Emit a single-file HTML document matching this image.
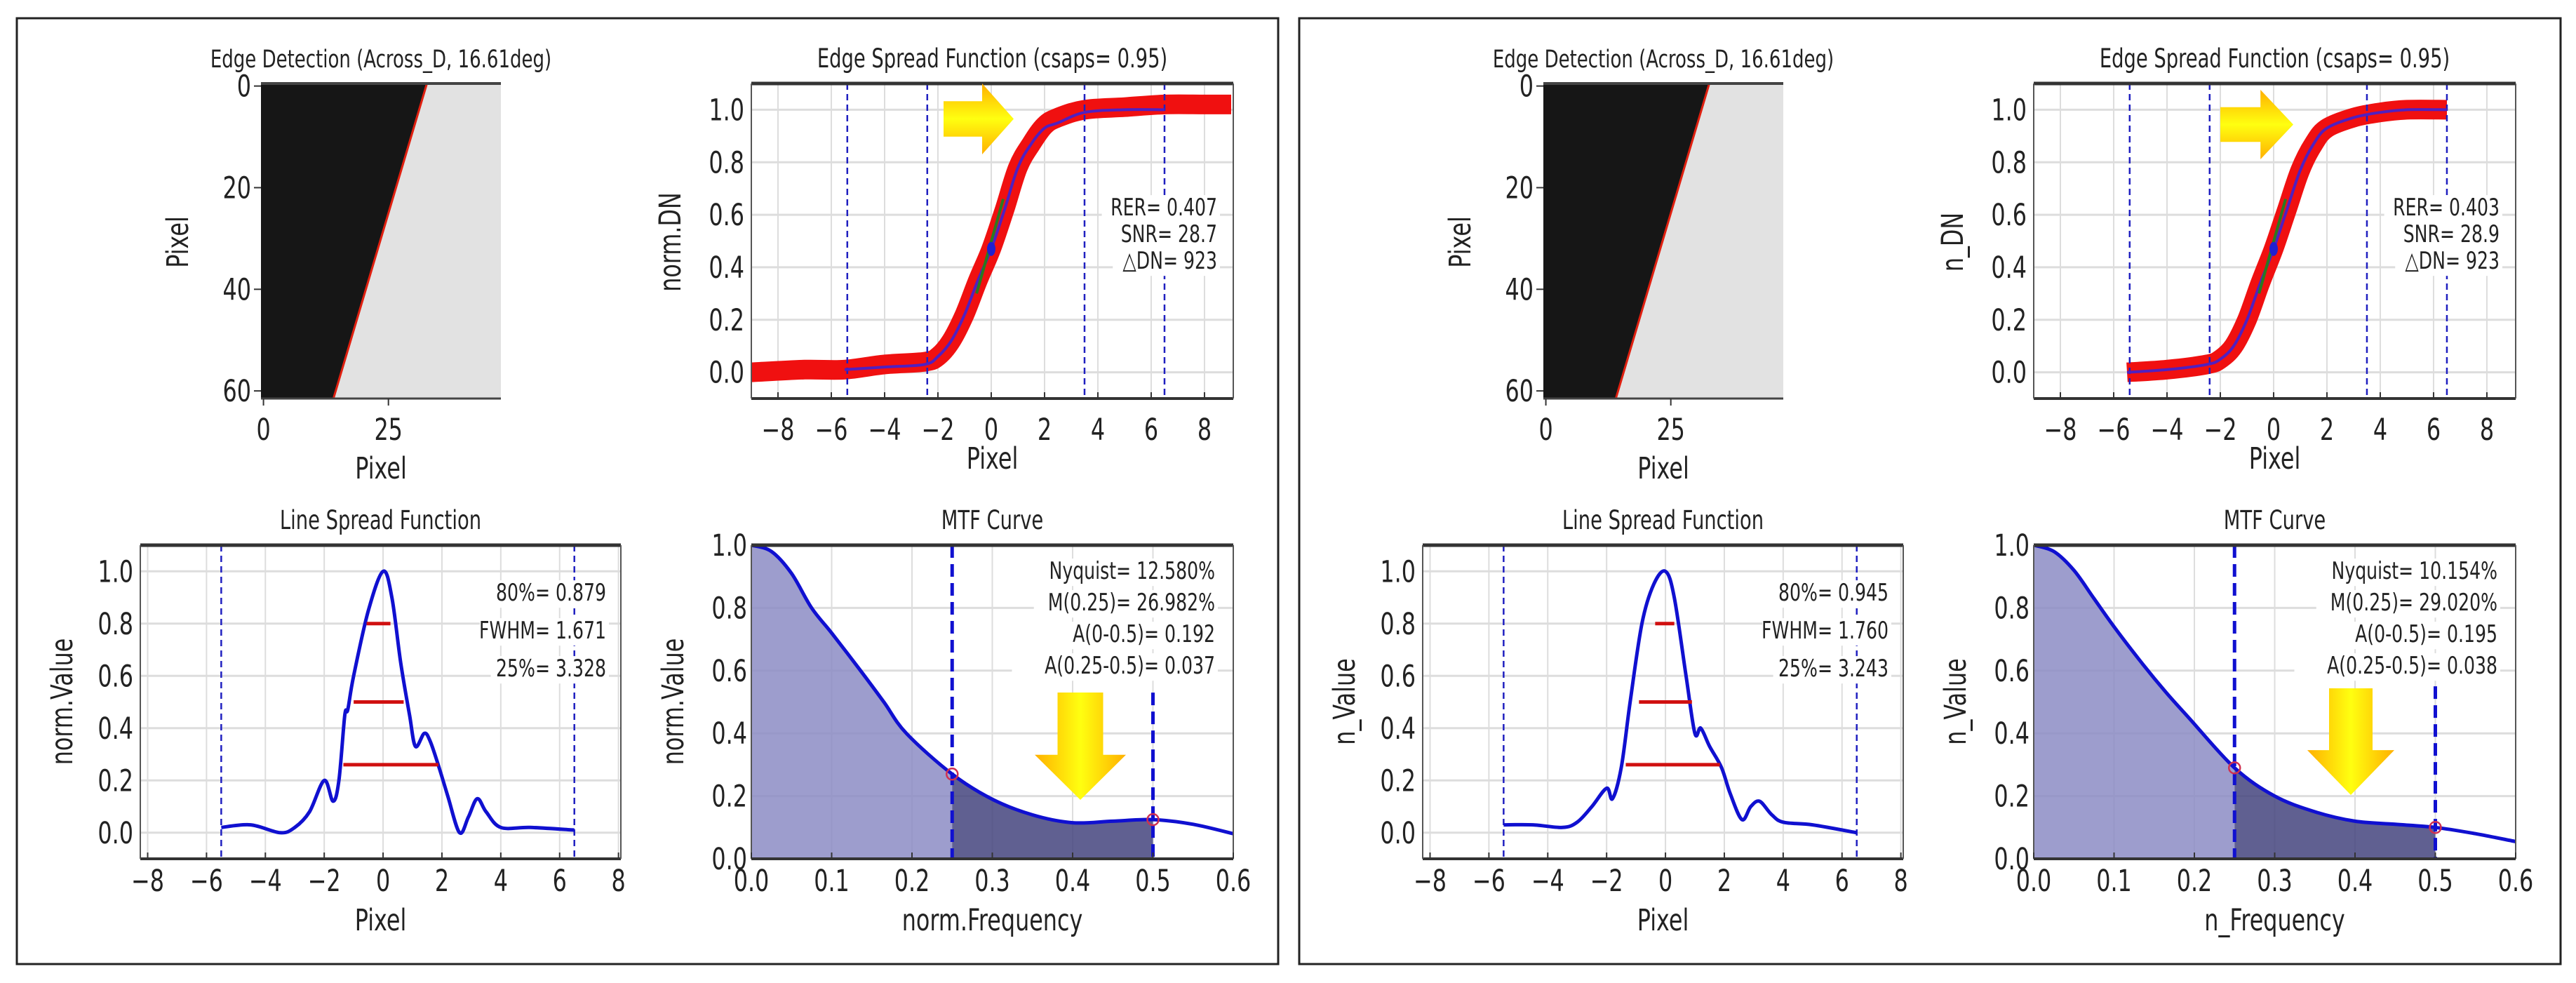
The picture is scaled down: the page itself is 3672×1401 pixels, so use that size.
<!DOCTYPE html>
<html><head><meta charset="utf-8"><style>
html,body{margin:0;padding:0;background:#fff;}
svg{display:block;}
text{font-family:"DejaVu Sans","Liberation Sans",sans-serif;fill:#222;}
</style></head><body>
<svg id="fig" width="3672" height="1401" viewBox="0 0 3672 1401" xmlns="http://www.w3.org/2000/svg">
<defs>
<linearGradient id="arrR" x1="0" y1="0" x2="0" y2="1"><stop offset="0" stop-color="#ffb000"/><stop offset="0.5" stop-color="#ffff10"/><stop offset="1" stop-color="#ffb000"/></linearGradient>
<linearGradient id="arrD" x1="0" y1="0" x2="1" y2="0"><stop offset="0" stop-color="#ffb000"/><stop offset="0.5" stop-color="#ffff10"/><stop offset="1" stop-color="#ffb000"/></linearGradient>
</defs>
</svg>
<script>
// ---------- data ----------
const esfCurveX_A = [-5.5,-4,-2.5,-2,-1.5,-1,-0.5,0,0.5,1,1.5,2,2.5,3.5,5,6.5];
const esfCurveY_A = [0.01,0.02,0.03,0.06,0.12,0.22,0.35,0.47,0.62,0.78,0.87,0.93,0.95,0.99,1.0,1.0];
const esfBandX_A = [-9,-7,-5.5,-4,-2.5,-2,-1.5,-1,-0.5,0,0.5,1,1.5,2,2.5,3.5,5,6.5,8,9];
const esfBandY_A = [0.0,0.01,0.01,0.03,0.04,0.06,0.12,0.22,0.35,0.47,0.62,0.78,0.87,0.94,0.97,1.0,1.01,1.02,1.02,1.02];
const esfCurveX_B = [-5.5,-4,-2.5,-2,-1.5,-1,-0.5,0,0.5,1,1.5,2,3,4,5,6.5];
const esfCurveY_B = [0.0,0.01,0.03,0.05,0.1,0.2,0.34,0.47,0.62,0.77,0.87,0.93,0.97,0.99,1.0,1.0];
const esfDash = [-5.4,-2.4,3.5,6.5];
const lsfX_A = [-5.5,-4.5,-3.5,-3,-2.5,-2,-1.7,-1.5,-1.3,-1.2,-1,-0.5,0,0.3,0.6,0.9,1.1,1.4,1.6,1.9,2.2,2.6,2.9,3.2,3.5,4,5,6.5];
const lsfY_A = [0.02,0.03,0.0,0.02,0.08,0.2,0.12,0.2,0.45,0.47,0.6,0.85,1.0,0.9,0.65,0.45,0.33,0.38,0.35,0.25,0.14,0.0,0.06,0.13,0.08,0.02,0.02,0.01];
const lsfX_B = [-5.5,-4.5,-3.5,-3,-2.5,-2,-1.8,-1.5,-1.2,-0.8,-0.4,0,0.3,0.7,1.0,1.2,1.5,1.9,2.2,2.6,2.9,3.2,3.6,4,5,6.5];
const lsfY_B = [0.03,0.03,0.02,0.04,0.1,0.17,0.13,0.25,0.5,0.8,0.95,1.0,0.9,0.6,0.38,0.4,0.33,0.25,0.15,0.05,0.1,0.12,0.07,0.04,0.03,0.0];
const lsfLevels = [0.8,0.5,0.26];
const lsfLeft_A = [-0.56,-1.0,-1.35];
const lsfRight_A = [0.25,0.7,1.88];
const lsfLeft_B = [-0.35,-0.9,-1.35];
const lsfRight_B = [0.3,0.9,1.85];
const mtfX = [0,0.025,0.05,0.075,0.1,0.136,0.165,0.193,0.25,0.3,0.35,0.4,0.45,0.5,0.55,0.6];
const mtfY_A = [1,0.98,0.91,0.8,0.72,0.6,0.5,0.4,0.27,0.19,0.14,0.115,0.12,0.125,0.11,0.08];
const mtfY_B = [1,0.98,0.92,0.83,0.74,0.62,0.53,0.45,0.29,0.2,0.15,0.12,0.11,0.10,0.08,0.055];
const esfTicks = [-8,-6,-4,-2,0,2,4,6,8];
const yTicks = [0,0.2,0.4,0.6,0.8,1.0];
const mtfXTicks = [0,0.1,0.2,0.3,0.4,0.5,0.6];
const imgXTicks = [0,25];
const imgYTicks = [0,20,40,60];
const statsESF_A = ["RER= 0.407","SNR= 28.7","\u25B3DN=  923"];
const statsESF_B = ["RER= 0.403","SNR= 28.9","\u25B3DN=  923"];
const statsLSF_A = ["80%= 0.879","FWHM= 1.671","25%= 3.328"];
const statsLSF_B = ["80%= 0.945","FWHM= 1.760","25%= 3.243"];
const statsMTF_A = ["Nyquist= 12.580%","M(0.25)= 26.982%","A(0-0.5)= 0.192","A(0.25-0.5)= 0.037"];
const statsMTF_B = ["Nyquist= 10.154%","M(0.25)= 29.020%","A(0-0.5)= 0.195","A(0.25-0.5)= 0.038"];

// ---------- helpers ----------
const svg = document.getElementById('fig');
const NS = 'http://www.w3.org/2000/svg';
const SX = 0.74;
function mk(tag, attrs, parent){
  const e = document.createElementNS(NS, tag);
  for (const k in attrs) e.setAttribute(k, attrs[k]);
  (parent||svg).appendChild(e);
  return e;
}
function txt(x,y,s,size,anchor,parent,rot){
  const tr = `translate(${x},${y})` + (rot?' rotate(-90)':'') + ` scale(${SX},1)`;
  const t = mk('text',{x:0,y:0,'font-size':size,'text-anchor':anchor||'middle',transform:tr},parent);
  t.textContent = s;
  return t;
}
function fmt(v){ return (v<0?'\u2212':'')+Math.abs(v); }
function scale(d0,d1,r0,r1){ return v => r0+(v-d0)*(r1-r0)/(d1-d0); }
function smooth(xs,ys,sx,sy,cont){
  const P = xs.map((x,i)=>[sx(x),sy(ys[i])]);
  let d = (cont?'L':'M')+P[0][0].toFixed(1)+','+P[0][1].toFixed(1);
  for(let i=0;i<P.length-1;i++){
    const p0=P[Math.max(0,i-1)], p1=P[i], p2=P[i+1], p3=P[Math.min(P.length-1,i+2)];
    const c1=[p1[0]+(p2[0]-p0[0])/6, p1[1]+(p2[1]-p0[1])/6];
    const c2=[p2[0]-(p3[0]-p1[0])/6, p2[1]-(p3[1]-p1[1])/6];
    d += ` C${c1[0].toFixed(1)},${c1[1].toFixed(1)} ${c2[0].toFixed(1)},${c2[1].toFixed(1)} ${p2[0].toFixed(1)},${p2[1].toFixed(1)}`;
  }
  return d;
}

function frameAxes(g,L,T,R,B){
  mk('line',{x1:L,y1:T,x2:R,y2:T,stroke:'#333','stroke-width':5},g);
  mk('line',{x1:L,y1:B,x2:R,y2:B,stroke:'#333','stroke-width':4},g);
  mk('line',{x1:L,y1:T,x2:L,y2:B,stroke:'#555','stroke-width':2},g);
  mk('line',{x1:R,y1:T,x2:R,y2:B,stroke:'#555','stroke-width':2},g);
}
function statBox(g,lines,xr,y0,dy,size){
  lines.forEach((s,i)=>{
    const w = s.length*size*0.46;
    mk('rect',{x:xr-w-8,y:y0+i*dy-size*0.85,width:w+12,height:size*1.15,fill:'#fff'},g);
  });
  lines.forEach((s,i)=>{
    const t = txt(xr,y0+i*dy,s,size,'end',g);
    
    
  });
}
function rightArrow(g,x0,x1,y0,y1){
  const hx = x0+(x1-x0)*0.55, bh=(y1-y0)*0.25;
  const pts=[[x0,y0+bh],[hx,y0+bh],[hx,y0],[x1,(y0+y1)/2],[hx,y1],[hx,y1-bh],[x0,y1-bh]];
  const p = mk('polygon',{points:pts.map(p=>p.join(',')).join(' '),fill:'url(#arrR)'},g);
  
  
}
function downArrow(g,x0,x1,y0,y1){
  const hy = y0+(y1-y0)*0.58, bw=(x1-x0)*0.25;
  const pts=[[x0+bw,y0],[x1-bw,y0],[x1-bw,hy],[x1,hy],[(x0+x1)/2,y1],[x0,hy],[x0+bw,hy]];
  const p = mk('polygon',{points:pts.map(p=>p.join(',')).join(' '),fill:'url(#arrD)'},g);
  
  
}

const TF = 43, TT = 37, TS = 34;

// ---------- panel ----------
function panel(dx, v){
  const g = mk('g',{});
  
  
  const fr = mk('rect',{x:24+dx,y:26,width:1798,height:1348,fill:'none',stroke:'#222','stroke-width':3},g);
  
  

  // ---- Edge detection image ----
  const gi = mk('g',{},g);
  
  
  const iL=372+dx, iR=714+dx, iT=119, iB=568;
  const ix = scale(-0.5,47.5,iL,iR), iy = scale(-0.5,61.5,iT,iB);
  mk('rect',{x:iL,y:iT,width:iR-iL,height:iB-iT,fill:'#e2e2e2'},gi);
  mk('polygon',{points:`${iL},${iT} ${ix(32.7)},${iT} ${ix(14)},${iB} ${iL},${iB}`,fill:'#161616'},gi);
  mk('line',{x1:ix(32.7),y1:iT,x2:ix(14),y2:iB,stroke:'#e02010','stroke-width':3},gi);
  mk('line',{x1:iL,y1:iT,x2:iR,y2:iT,stroke:'#444','stroke-width':4},gi);
  mk('line',{x1:iL,y1:iB,x2:iR,y2:iB,stroke:'#444','stroke-width':3},gi);
  imgXTicks.forEach(t=>{ mk('line',{x1:ix(t),y1:iB,x2:ix(t),y2:iB+10,stroke:'#333','stroke-width':2},gi); txt(ix(t),627,String(t),TF,'middle',gi); });
  imgYTicks.forEach(t=>{ mk('line',{x1:iL-10,y1:iy(t),x2:iL,y2:iy(t),stroke:'#333','stroke-width':2},gi); txt(iL-14,iy(t)+15,String(t),TF,'end',gi); });
  txt((iL+iR)/2,96,'Edge Detection (Across_D, 16.61deg)',TT*0.95,'middle',gi);
  txt((iL+iR)/2,682,'Pixel',TF,'middle',gi);
  txt(268+dx,345,'Pixel',TF,'middle',gi,true);

  // ---- ESF ----
  const ge = mk('g',{},g);
  
  
  const eL=1071+dx,eR=1758+dx,eT=119,eB=568;
  const ex=scale(-9,9.08,eL,eR), ey=scale(-0.1,1.1,eB,eT);
  esfTicks.forEach(t=>mk('line',{x1:ex(t),y1:eT,x2:ex(t),y2:eB,stroke:'#ddd','stroke-width':2},ge));
  yTicks.forEach(t=>mk('line',{x1:eL,y1:ey(t),x2:eR,y2:ey(t),stroke:'#ddd','stroke-width':3},ge));
  const band = mk('path',{d:smooth(v.esfBandX,v.esfBandY,ex,ey),fill:'none',stroke:'#f01010','stroke-width':28,'stroke-linejoin':'round','stroke-linecap':'butt'},ge);
  
  
  esfDash.forEach(t=>mk('line',{x1:ex(t),y1:eT,x2:ex(t),y2:eB,stroke:'#2020c0','stroke-width':2.5,'stroke-dasharray':'9,6'},ge));
  const ec = mk('path',{d:smooth(v.esfX,v.esfY,ex,ey),fill:'none',stroke:'#5020c0','stroke-width':4},ge);
  
  
  mk('line',{x1:ex(-0.55),y1:ey(0.3),x2:ex(0.45),y2:ey(0.66),stroke:'#2a7a20','stroke-width':4},ge);
  mk('ellipse',{cx:ex(0),cy:ey(0.47),rx:6,ry:10,fill:'#2020d0'},ge);
  frameAxes(ge,eL,eT,eR,eB);
  esfTicks.forEach(t=>{ mk('line',{x1:ex(t),y1:eB,x2:ex(t),y2:eB-9,stroke:'#333','stroke-width':2},ge); txt(ex(t),627,fmt(t),TF,'middle',ge); });
  yTicks.forEach(t=>txt(eL-10,ey(t)+15,t.toFixed(1),TF,'end',ge));
  txt((eL+eR)/2,96,'Edge Spread Function (csaps= 0.95)',TT,'middle',ge);
  txt((eL+eR)/2,668,'Pixel',TF,'middle',ge);
  txt(970+dx,345,v.esfYLabel,TF,'middle',ge,true);
  statBox(ge,v.esfStats,1735+dx,307,38,TS);
  rightArrow(ge,v.arrE[0]+dx,v.arrE[1]+dx,v.arrE[2],v.arrE[3]);

  // ---- LSF ----
  const gl = mk('g',{},g);
  
  
  const lL=200+dx,lR=885+dx,lT=777,lB=1224;
  const lx=scale(-8.25,8.08,lL,lR), ly=scale(-0.1,1.1,lB,lT);
  esfTicks.forEach(t=>mk('line',{x1:lx(t),y1:lT,x2:lx(t),y2:lB,stroke:'#ddd','stroke-width':2},gl));
  yTicks.forEach(t=>mk('line',{x1:lL,y1:ly(t),x2:lR,y2:ly(t),stroke:'#ddd','stroke-width':3},gl));
  [-5.5,6.5].forEach(t=>mk('line',{x1:lx(t),y1:lT,x2:lx(t),y2:lB,stroke:'#2020c0','stroke-width':2.5,'stroke-dasharray':'9,6'},gl));
  const lc = mk('path',{d:smooth(v.lsfX,v.lsfY,lx,ly),fill:'none',stroke:'#1010d0','stroke-width':5,'stroke-linejoin':'round'},gl);
  
  
  lsfLevels.forEach((lv,i)=>{
    const w = mk('line',{x1:lx(v.lsfL[i]),y1:ly(lv),x2:lx(v.lsfR[i]),y2:ly(lv),stroke:'#d01010','stroke-width':5},gl);
    
    
  });
  frameAxes(gl,lL,lT,lR,lB);
  esfTicks.forEach(t=>{ mk('line',{x1:lx(t),y1:lB,x2:lx(t),y2:lB-9,stroke:'#333','stroke-width':2},gl); txt(lx(t),1270,fmt(t),TF,'middle',gl); });
  yTicks.forEach(t=>txt(lL-10,ly(t)+15,t.toFixed(1),TF,'end',gl));
  txt((lL+lR)/2,754,'Line Spread Function',TT,'middle',gl);
  txt((lL+lR)/2,1326,'Pixel',TF,'middle',gl);
  txt(103+dx,1000,v.lsfYLabel,TF,'middle',gl,true);
  statBox(gl,v.lsfStats,864+dx,856,54,TS);

  // ---- MTF ----
  const gm = mk('g',{},g);
  
  
  const mL=1071+dx,mR=1758+dx,mT=777,mB=1224;
  const mx=scale(0,0.6,mL,mR), my=scale(0,1,mB,mT);
  mtfXTicks.forEach(t=>mk('line',{x1:mx(t),y1:mT,x2:mx(t),y2:mB,stroke:'#ddd','stroke-width':2},gm));
  yTicks.forEach(t=>mk('line',{x1:mL,y1:my(t),x2:mR,y2:my(t),stroke:'#ddd','stroke-width':3},gm));
  const interp = x => { for(let i=1;i<mtfX.length;i++){ if(x<=mtfX[i]){ const f=(x-mtfX[i-1])/(mtfX[i]-mtfX[i-1]); return v.mtfY[i-1]+f*(v.mtfY[i]-v.mtfY[i-1]); } } return v.mtfY[v.mtfY.length-1]; };
  function area(a,b,color,name){
    const xs=[a], ys=[interp(a)];
    mtfX.forEach((x,i)=>{ if(x>a&&x<b){ xs.push(x); ys.push(v.mtfY[i]); } });
    xs.push(b); ys.push(interp(b));
    const d = smooth(xs,ys,mx,my)+` L${mx(b)},${my(0)} L${mx(a)},${my(0)} Z`;
    const p = mk('path',{d:d,fill:color,'fill-opacity':0.85},gm);
    
    
  }
  area(0,0.25,'#8c8cc4','mtf-area-low');
  area(0.25,0.5,'#44447e','mtf-area-high');
  const mc = mk('path',{d:smooth(mtfX,v.mtfY,mx,my),fill:'none',stroke:'#1010d0','stroke-width':5},gm);
  
  
  mk('line',{x1:mx(0.25),y1:mT,x2:mx(0.25),y2:mB,stroke:'#1010d0','stroke-width':5,'stroke-dasharray':'18,9'},gm);
  mk('line',{x1:mx(0.5),y1:my(v.nyqTop),x2:mx(0.5),y2:mB,stroke:'#1010d0','stroke-width':5,'stroke-dasharray':'18,9'},gm);
  mk('circle',{cx:mx(0.25),cy:my(interp(0.25)),r:8,fill:'none',stroke:'#d03050','stroke-width':2.5},gm);
  mk('circle',{cx:mx(0.5),cy:my(interp(0.5)),r:8,fill:'none',stroke:'#d03050','stroke-width':2.5},gm);
  frameAxes(gm,mL,mT,mR,mB);
  mtfXTicks.forEach(t=>{ mk('line',{x1:mx(t),y1:mB,x2:mx(t),y2:mB-9,stroke:'#333','stroke-width':2},gm); txt(mx(t),1270,t.toFixed(1),TF,'middle',gm); });
  yTicks.forEach(t=>txt(mL-6,my(t)+15,t.toFixed(1),TF,'end',gm));
  txt((mL+mR)/2,754,'MTF Curve',TT,'middle',gm);
  txt((mL+mR)/2,1326,v.mtfXLabel,TF,'middle',gm);
  txt(974+dx,1000,v.lsfYLabel,TF,'middle',gm,true);
  statBox(gm,v.mtfStats,1732+dx,825,45,TS);
  downArrow(gm,v.arrM[0]+dx,v.arrM[1]+dx,v.arrM[2],v.arrM[3]);
}

panel(0,{name:'left-panel',esfBandX:esfBandX_A,esfBandY:esfBandY_A,esfX:esfCurveX_A,esfY:esfCurveY_A,
  esfYLabel:'norm.DN',esfStats:statsESF_A,arrE:[1345,1445,119,220],
  lsfX:lsfX_A,lsfY:lsfY_A,lsfL:lsfLeft_A,lsfR:lsfRight_A,lsfYLabel:'norm.Value',lsfStats:statsLSF_A,
  mtfY:mtfY_A,mtfXLabel:'norm.Frequency',mtfStats:statsMTF_A,nyqTop:0.53,arrM:[1475,1605,987,1140]});
panel(1828,{name:'right-panel',esfBandX:esfCurveX_B,esfBandY:esfCurveY_B,esfX:esfCurveX_B,esfY:esfCurveY_B,
  esfYLabel:'n_DN',esfStats:statsESF_B,arrE:[1337,1441,128,227],
  lsfX:lsfX_B,lsfY:lsfY_B,lsfL:lsfLeft_B,lsfR:lsfRight_B,lsfYLabel:'n_Value',lsfStats:statsLSF_B,
  mtfY:mtfY_B,mtfXLabel:'n_Frequency',mtfStats:statsMTF_B,nyqTop:0.55,arrM:[1461,1585,981,1133]});
</script>
</body></html>
